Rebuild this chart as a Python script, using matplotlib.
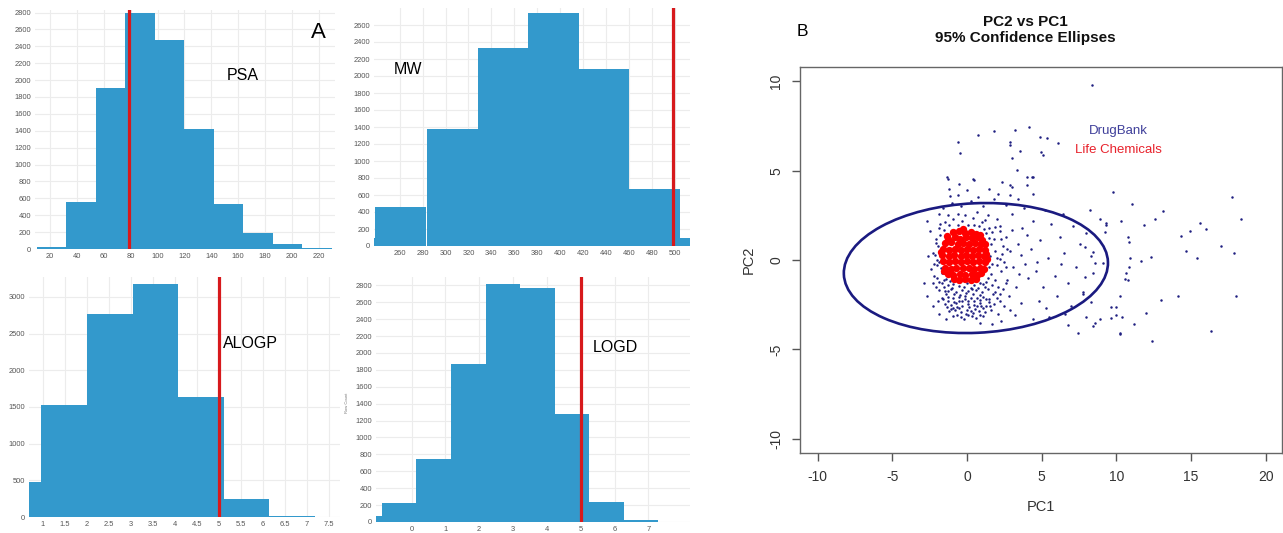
import numpy as np
import matplotlib
matplotlib.use("Agg")
import matplotlib.pyplot as plt
from matplotlib.patches import Ellipse

plt.rcParams['font.family'] = ['Liberation Sans', 'DejaVu Sans']
plt.rcParams['axes.unicode_minus'] = False

W, H = 1283, 533
BLUE = "#3399cc"
RED = "#d7191c"

# ---- histogram data (bin left edges, bin width, counts, cutoff) ----
PSA_EDGES = [10.3, 32.2, 54.2, 76.1, 98.0, 120.0, 141.9, 163.8, 185.8, 207.7]
PSA_W = 21.94
PSA_COUNTS = [20, 560, 1910, 2800, 2480, 1420, 530, 190, 60, 15]
PSA_CUT = 79

MW_EDGES = [194.5, 238.7, 284.2, 328.0, 372.3, 416.0, 460.4, 504.4]
MW_W = 44.1
MW_COUNTS = [100, 460, 1375, 2335, 2740, 2080, 670, 100]
MW_CUT = 499

ALOGP_EDGES = [-0.09, 0.95, 2.0, 3.04, 4.08, 5.11, 6.15]
ALOGP_W = 1.04
ALOGP_COUNTS = [480, 1530, 2760, 3170, 1640, 240, 10]
ALOGP_CUT = 5

LOGD_EDGES = [-1.9, -0.88, 0.13, 1.16, 2.19, 3.21, 4.22, 5.25, 6.26]
LOGD_W = 1.03
LOGD_COUNTS = [75, 220, 745, 1865, 2820, 2765, 1275, 240, 18]
LOGD_CUT = 5

# ---- PCA scatter ----
DB_PTS = [
    # outliers
    (9.78, 3.78), (11.07, 3.13), (13.12, 2.76), (17.73, 3.50), (18.36, 2.31), (12.61, 2.31),
    (11.83, 1.96), (10.29, 2.20), (15.62, 2.05), (16.02, 1.75), (14.91, 1.64), (14.35, 1.36),
    (10.78, 1.30), (10.85, 1.01), (17.02, 0.78), (14.64, 0.52), (17.91, 0.37), (12.34, 0.18),
    (10.90, 0.09), (11.68, -0.07), (15.4, 0.09), (10.85, -0.37), (10.68, -0.74), (10.61, -1.06),
    (10.27, -1.99), (14.13, -1.99), (18.03, -1.99), (13.01, -2.23), (12.01, -2.94), (9.67, -2.64),
    (10.0, -3.07), (11.19, -3.58), (10.27, -4.15), (12.41, -4.53), (16.35, -3.95),
    (8.22, 2.79), (8.94, 2.31), (9.34, 1.94), (9.22, 1.58), (7.89, 0.74), (8.45, 0.47),
    (8.56, -0.19), (9.11, -0.19), (7.89, -0.93), (8.45, -0.74), (7.78, -1.77), (8.33, -2.33),
    (8.89, -3.32), (8.0, -3.17), (8.44, -3.72),
    (8.38, 9.81), (0.76, 7.02), (1.83, 7.21), (3.25, 7.26), (4.14, 7.45), (-0.58, 6.58),
    (2.87, 6.61), (2.87, 6.42), (3.54, 6.11), (4.95, 6.05), (5.1, 5.87), (-0.47, 5.96),
    (2.99, 5.68), (4.88, 6.89), (5.33, 6.83), (6.1, 6.52), (3.32, 5.03), (3.99, 4.65),
    (4.43, 4.65), (-1.25, 4.56), (0.42, 4.51),
    (-1.32, 4.62), (-0.51, 4.25), (0.47, 4.47), (2.36, 4.38), (3.05, 4.1), (3.99, 4.19),
    (4.34, 4.65), (-0.58, 3.63), (0.76, 3.54), (2.09, 3.72), (2.87, 3.63), (4.43, 3.72),
    (-1.14, 3.59), (9.34, 2.05), (10.78, -1.12), (10.0, -2.61), (10.4, -3.17), (9.67, -3.26),
    (10.23, -4.10), (8.56, -3.54), (6.77, -3.63), (7.44, -4.10),
    # ring around the red cloud
    (-2.1, 1.2), (-2.3, 0.4), (-2.0, -0.3), (-2.2, -0.9), (-1.9, 1.8), (-1.5, 2.1), (-0.9, 2.3),
    (-0.3, 2.2), (0.4, 2.35), (1.0, 2.1), (1.5, 1.8), (1.8, 1.2), (1.9, 0.5), (1.7, -0.2),
    (1.6, -0.8), (-1.8, 2.0), (-1.2, 1.95), (0.1, 1.95), (0.8, 1.9), (1.3, 1.5), (1.6, 0.9),
    (-2.0, 0.0), (-1.95, 0.8), (-2.4, -0.5), (2.2, 1.6), (2.0, 2.3), (-0.6, 2.6), (0.7, 2.7),
    (1.4, 2.5), (-1.3, 2.5), (2.4, 0.8), (2.5, -0.1), (2.3, -0.6), (-2.5, 1.6), (-2.6, 0.2),
    (-1.55, -1.1), (-2.0, -1.0), (-2.3, -1.3), (-1.75, -0.45), (-2.15, 0.3), (-1.85, 0.45),
    (-2.05, 0.95), (-1.8, 1.4), (-2.2, -0.2), (-1.9, -0.1), (1.5, -0.4), (1.55, 0.2), (1.45, 1.25),
    (1.7, 1.55), (-0.6, 1.95), (0.45, 1.95), (1.15, 1.75), (-1.55, 1.7), (-0.1, 2.5), (1.2, 2.25),
    # dense lobe below
    (-1.7, -1.3), (-1.3, -1.4), (-0.9, -1.35), (-0.5, -1.45), (0.0, -1.3), (0.5, -1.4), (0.9, -1.3),
    (1.3, -1.25), (1.7, -1.4), (-1.9, -1.7), (-1.5, -1.75), (-1.1, -1.65), (-0.7, -1.8), (-0.3, -1.7),
    (0.1, -1.75), (0.6, -1.7), (1.0, -1.8), (1.4, -1.65), (1.9, -1.8), (-1.7, -2.1), (-1.3, -2.05),
    (-0.9, -2.15), (-0.5, -2.05), (-0.1, -2.2), (0.3, -2.1), (0.7, -2.15), (1.1, -2.05), (1.5, -2.2),
    (2.0, -2.1), (-1.5, -2.45), (-1.1, -2.5), (-0.7, -2.4), (-0.3, -2.55), (0.1, -2.45), (0.5, -2.5),
    (0.9, -2.4), (1.3, -2.55), (1.8, -2.45), (-1.2, -2.85), (-0.8, -2.8), (-0.4, -2.9), (0.0, -2.8),
    (0.4, -2.95), (0.8, -2.85), (1.2, -2.9), (1.6, -2.8), (-0.9, -3.15), (-0.4, -3.2), (0.1, -3.1),
    (0.6, -3.25), (1.1, -3.15), (-1.4, -1.05), (-1.7, -0.7), (1.4, -1.0), (-1.15, -1.2), (0.25, -1.55),
    (-0.15, -2.0), (0.85, -1.95), (-0.65, -2.65), (0.55, -2.75), (-1.0, -1.55), (-0.2, -1.5),
    (0.4, -1.9), (1.2, -1.5), (-1.4, -1.9), (-0.55, -2.3), (0.15, -2.65), (0.95, -2.6), (-0.95, -2.7),
    (1.45, -2.35), (-0.05, -3.0), (0.35, -1.2),
    (-2.1, -1.5), (-1.85, -1.25), (-1.55, -1.5), (-1.25, -1.75), (-0.85, -1.9), (-0.45, -1.95),
    (-0.05, -1.85), (0.35, -1.6), (0.75, -1.55), (1.1, -1.35), (-1.95, -2.3), (-1.6, -2.2),
    (-1.25, -2.3), (-0.85, -2.35), (-0.35, -2.3), (0.05, -2.3), (0.45, -2.3), (0.85, -2.25),
    (1.25, -2.2), (-1.35, -2.65), (-1.05, -2.75), (-0.5, -2.7), (0.25, -2.85), (0.7, -2.6),
    (1.05, -2.7), (-0.65, -3.05), (-0.2, -3.3), (0.35, -3.15), (0.85, -3.05),
    (1.9, -1.1), (2.1, -1.5), (1.75, -1.9), (1.55, -2.6), (2.2, -1.9), (2.6, -1.3),
    # spread to the right inside the ellipse
    (2.2, 1.9), (2.6, 1.3), (2.9, 0.5), (3.1, -0.4), (2.7, -1.1), (2.4, -1.6), (2.8, -2.0),
    (2.5, -2.6), (3.3, -1.5), (3.4, 0.9), (3.7, 1.8), (3.9, -0.2), (4.1, -1.0), (3.6, -2.4),
    (4.3, 0.6), (4.6, -0.6), (4.4, 2.2), (4.9, 1.1), (5.1, -1.5), (4.8, -2.3), (5.4, 0.1),
    (5.6, 2.0), (5.9, -0.9), (6.2, 1.3), (6.0, -2.0), (6.5, 0.4), (6.8, -1.3), (7.1, 1.9),
    (7.3, -0.4), (7.6, 0.9), (6.4, 2.6), (5.2, 2.8), (3.0, 2.6), (3.8, 2.9), (7.0, -2.6),
    (6.6, -3.0), (5.5, -3.2), (4.4, -3.3), (3.2, -3.1), (2.1, -3.0), (8.0, 1.5), (7.8, -1.9),
    (8.3, 0.2), (2.0, 0.1), (2.35, 0.35), (2.6, -0.4), (3.5, -0.8), (3.0, 1.7), (4.0, 1.4),
    (4.7, -0.1), (5.3, -2.7), (6.3, -0.2), (3.6, 0.3), (2.9, -2.8), (2.2, -2.3),
    (2.0, -0.3), (2.2, 0.05), (2.7, 0.6), (2.3, 1.15), (1.9, 1.85),
    # upper / outer scatter
    (-1.6, 2.9), (-1.0, 3.2), (-0.4, 3.0), (0.3, 3.3), (1.1, 3.0), (1.8, 3.4), (2.6, 3.1),
    (3.4, 3.4), (-1.2, 4.0), (0.0, 3.9), (1.5, 4.0), (2.9, 4.2), (-1.9, 2.6), (-2.7, 2.2),
    (-2.9, -1.3), (-2.7, -2.0), (-2.3, -2.6), (-1.9, -3.0), (-1.4, -3.3), (2.3, -3.4),
    (1.7, -3.6), (0.9, -3.5),
]

LC_PTS = [
    (-0.9, 1.55), (-0.5, 1.62), (-0.12, 1.52), (0.3, 1.57), (0.62, 1.45),
    (-1.25, 1.2), (-0.83, 1.28), (-0.47, 1.2), (-0.05, 1.27), (0.37, 1.21), (0.76, 1.26), (1.0, 1.12),
    (-1.45, 0.93), (-1.07, 0.98), (-0.63, 0.92), (-0.27, 0.97), (0.17, 0.91), (0.53, 0.96), (0.94, 0.92), (1.19, 0.88),
    (-1.58, 0.62), (-1.18, 0.57), (-0.82, 0.63), (-0.38, 0.58), (0.02, 0.62), (0.42, 0.57), (0.78, 0.63), (1.22, 0.58),
    (-1.64, 0.27), (-1.23, 0.22), (-0.87, 0.28), (-0.43, 0.23), (-0.06, 0.27), (0.36, 0.22), (0.74, 0.28), (1.13, 0.23), (1.3, 0.35),
    (-1.6, -0.08), (-1.22, -0.12), (-0.78, -0.07), (-0.41, -0.13), (0.02, -0.08), (0.38, -0.12), (0.81, -0.07), (1.2, -0.12),
    (-1.48, -0.43), (-1.08, -0.48), (-0.72, -0.42), (-0.28, -0.47), (0.12, -0.43), (0.48, -0.48), (0.88, -0.42), (1.12, -0.5),
    (-1.28, -0.78), (-0.92, -0.82), (-0.48, -0.77), (-0.12, -0.83), (0.31, -0.78), (0.68, -0.82), (0.96, -0.74),
    (-0.86, -1.08), (-0.52, -1.14), (-0.1, -1.08), (0.28, -1.13), (0.58, -1.04),
    (-1.72, 0.45), (-1.35, 1.35), (1.33, 0.05), (-1.52, -0.62), (0.85, 1.38), (-0.25, 1.72),
]

ELL_CENTER = (0.6, -0.45)
ELL_WIDTH, ELL_HEIGHT, ELL_ANGLE = 17.7, 7.25, 2.2


def px_axes(fig, left, top, right, bottom):
    return fig.add_axes([left / W, 1 - bottom / H, (right - left) / W, (bottom - top) / H])


def hist_panel(ax, edges, width, counts, cut, xlim, ylim, xticks, yticks, xlabels=None):
    ax.bar(edges, counts, width=width, align="edge", color=BLUE, linewidth=0, zorder=2)
    ax.axvline(cut, color=RED, lw=2.3, zorder=3)
    ax.set_xlim(*xlim)
    ax.set_ylim(*ylim)
    ax.set_xticks(xticks)
    if xlabels is not None:
        ax.set_xticklabels(xlabels)
    ax.set_yticks(yticks)
    ax.grid(True, color="#ececec", lw=0.8, zorder=0)
    for s in ax.spines.values():
        s.set_visible(False)
    ax.tick_params(length=0, labelsize=5.4, colors="#555555", pad=3)


fig = plt.figure(figsize=(W / 100, H / 100), dpi=100)

# PSA
ax = px_axes(fig, 35, 10, 335, 249)
hist_panel(ax, PSA_EDGES, PSA_W, PSA_COUNTS, PSA_CUT, (8.8, 232), (0, 2830),
           range(20, 221, 20), range(0, 2801, 200))
fig.text(243 / W, 1 - 75 / H, "PSA", fontsize=11.5, ha="center", va="center")
fig.text(318 / W, 1 - 33 / H, "A", fontsize=16, ha="center", va="center")

# MW
ax = px_axes(fig, 374, 8, 690, 246)
hist_panel(ax, MW_EDGES, MW_W, MW_COUNTS, MW_CUT, (237.5, 513.5), (0, 2800),
           range(260, 501, 20), range(0, 2601, 200))
fig.text(408 / W, 1 - 70 / H, "MW", fontsize=11.5, ha="center", va="center")

# ALOGP
ax = px_axes(fig, 29, 277, 340, 517)
hist_panel(ax, ALOGP_EDGES, ALOGP_W, ALOGP_COUNTS, ALOGP_CUT, (0.68, 7.76), (0, 3270),
           np.arange(1, 7.51, 0.5), range(0, 3001, 500),
           ["1", "1.5", "2", "2.5", "3", "3.5", "4", "4.5", "5", "5.5", "6", "6.5", "7", "7.5"])
fig.text(250 / W, 1 - 343 / H, "ALOGP", fontsize=11.5, ha="center", va="center")

# LOGD
ax = px_axes(fig, 376, 277, 690, 522)
hist_panel(ax, LOGD_EDGES, LOGD_W, LOGD_COUNTS, LOGD_CUT, (-1.05, 8.23), (0, 2898),
           range(0, 8), range(0, 2801, 200))
fig.text(615 / W, 1 - 347 / H, "LOGD", fontsize=11.5, ha="center", va="center")
fig.text(347 / W, 1 - 403 / H, "Row Count", fontsize=3, rotation=90, ha="center", va="center",
         color="#777777")

# ---- panel B ----
axb = px_axes(fig, 800, 67, 1282, 453)
dx, dy = zip(*DB_PTS)
axb.scatter(dx, dy, s=3.2, color="#1f1f80", linewidths=0, zorder=2)
lx, ly = zip(*LC_PTS)
axb.scatter(lx, ly, s=28, color="#ff0000", linewidths=0, zorder=3)
axb.add_patch(Ellipse(ELL_CENTER, ELL_WIDTH, ELL_HEIGHT, angle=ELL_ANGLE, fill=False,
                      edgecolor="#1a1a80", lw=1.9, zorder=4))
axb.set_xlim(-11.18, 21.1)
axb.set_ylim(-10.8, 10.8)
axb.set_xticks([-10, -5, 0, 5, 10, 15, 20])
axb.set_yticks([-10, -5, 0, 5, 10])
axb.set_yticklabels(["-10", "-5", "0", "5", "10"], rotation=90, va="center")
axb.tick_params(direction="out", length=6, width=1, colors="#555555", labelcolor="#333333",
                labelsize=10, pad=6)
for s in axb.spines.values():
    s.set_color("#666666")
    s.set_linewidth(1.0)
axb.set_xlabel("PC1", fontsize=10.5, color="#333333", labelpad=12)
axb.set_ylabel("PC2", fontsize=10.5, color="#333333", labelpad=10)
axb.text(0.66, 0.835, "DrugBank", transform=axb.transAxes, color="#3f3f9a", fontsize=9.5,
         ha="center", va="center")
axb.text(0.66, 0.785, "Life Chemicals", transform=axb.transAxes, color="#e8212b", fontsize=9.5,
         ha="center", va="center")
fig.text(1025 / W, 1 - 30 / H, "PC2 vs PC1\n95% Confidence Ellipses", fontsize=11,
         fontweight="bold", ha="center", va="center", linespacing=1.15, color="#111111")
fig.text(802 / W, 1 - 32 / H, "B", fontsize=12.5, ha="center", va="center")

fig.savefig("out.png", dpi=100)
